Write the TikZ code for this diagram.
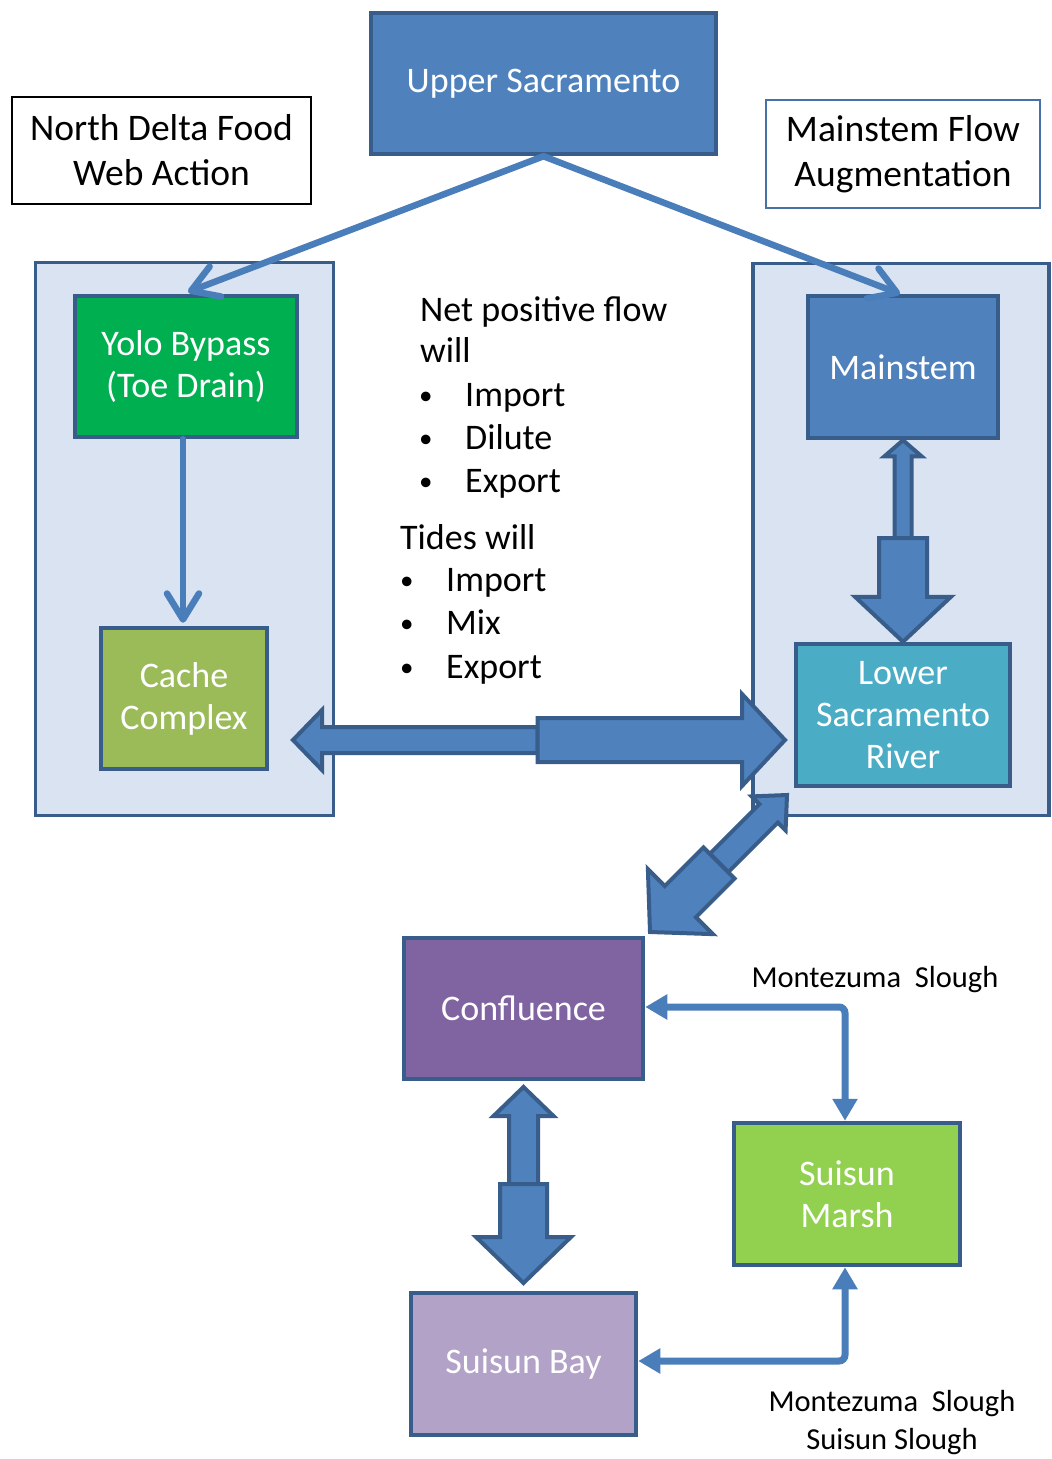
\documentclass[tikz,border=0pt]{standalone}
\usepackage{fontspec}
\setmainfont{Carlito}
\usetikzlibrary{arrows.meta,calc}
\definecolor{boxblue}{HTML}{4F81BD}
\definecolor{edgeblue}{HTML}{385D8A}
\definecolor{linkblue}{HTML}{4A7EBB}
\definecolor{panelfill}{HTML}{D9E3F1}
\definecolor{yologreen}{HTML}{00B050}
\definecolor{cachegreen}{HTML}{9BBB59}
\definecolor{lowercyan}{HTML}{4BACC6}
\definecolor{confpurple}{HTML}{8064A2}
\definecolor{marshgreen}{HTML}{92D050}
\definecolor{baylilac}{HTML}{B2A2C7}
\definecolor{noteedge}{HTML}{4672A8}
\newcommand\blockarr[5]{% tail, tip, shaft half, head length, head half
  \draw[blockarrow]
    ($(#1)!#3!90:(#2)$) --
    ($(#2)!#4!(#1)!#3!-90:(#1)$) --
    ($(#2)!#4!(#1)!#5!-90:(#1)$) --
    (#2) --
    ($(#2)!#4!(#1)!#5!90:(#1)$) --
    ($(#2)!#4!(#1)!#3!90:(#1)$) --
    ($(#1)!#3!-90:(#2)$) -- cycle;}
\tikzset{
  box/.style={draw=edgeblue, line width=4.5, text=white, align=center,
    font=\fontsize{36}{42}\selectfont, inner sep=0},
  panelbox/.style={draw=edgeblue, fill=panelfill, line width=3.5, inner sep=0},
  notebox/.style={line width=1.5, align=center, inner sep=0,
    font=\fontsize{37.5}{45}\selectfont},
  bodytext/.style={anchor=base west, inner sep=0, font=\fontsize{36}{42}\selectfont},
  bullet/.style={anchor=base west, inner sep=0, font=\fontsize{27}{42}\selectfont},
  sloughlabel/.style={align=center, inner sep=0, font=\fontsize{30.5}{38}\selectfont},
  link/.style={draw=linkblue, line width=6.5, line cap=round,
    -{Straight Barb[round,length=26pt,width=32pt]}},
  channel/.style={draw=linkblue, line width=7, rounded corners=6,
    {Triangle[length=22pt,width=24pt]}-{Triangle[length=22pt,width=24pt]}},
  blockarrow/.style={fill=boxblue, draw=edgeblue, line width=4, line join=miter},
}
\begin{document}
\begin{tikzpicture}[x=1pt,y=-1pt]
\useasboundingbox (0,0) rectangle (1052,1459);
\fill[white] (0,0) rectangle (1052,1459);

% panels
\node[panelbox, minimum width=298, minimum height=553] (leftpanel) at (184.5,539) {};
\node[panelbox, minimum width=296, minimum height=552] (rightpanel) at (901,539.5) {};

% notes
\node[notebox, draw=black, minimum width=299, minimum height=107] (northdelta) at (161.5,150.5) {North Delta Food\\Web Action};
\node[notebox, draw=noteedge, minimum width=274, minimum height=108] (flowaug) at (903,154) {Mainstem Flow\\Augmentation};

% boxes
\node[box, fill=boxblue, minimum width=345, minimum height=141] (upper) at (543.5,83.5) {Upper Sacramento};
\node[box, fill=yologreen, minimum width=222, minimum height=141] (yolo) at (186,366.5) {Yolo Bypass\\(Toe Drain)};
\node[box, fill=cachegreen, minimum width=166, minimum height=141] (cache) at (184,698.5) {Cache\\Complex};
\node[box, fill=boxblue, minimum width=190, minimum height=142] (mainstem) at (903,367) {Mainstem};
\node[box, fill=lowercyan, minimum width=214, minimum height=142] (lower) at (903,715) {Lower\\Sacramento\\River};
\node[box, fill=confpurple, minimum width=239, minimum height=141] (confluence) at (523.5,1008.5) {Confluence};
\node[box, fill=marshgreen, minimum width=226, minimum height=142] (marsh) at (847,1194) {Suisun\\Marsh};
\node[box, fill=baylilac, minimum width=225, minimum height=142] (bay) at (523.5,1364) {Suisun Bay};

% middle text
\node[bodytext] (t1) at (420,321) {Net positive flow};
\node[bodytext] (t2) at (420,362) {will};
\node[bullet] (b1) at (419,404) {•};
\node[bodytext] (i1) at (465,406) {Import};
\node[bullet] (b2) at (419,447) {•};
\node[bodytext] (i2) at (465,449) {Dilute};
\node[bullet] (b3) at (419,490) {•};
\node[bodytext] (i3) at (465,492) {Export};
\node[bodytext] (t3) at (400,549) {Tides will};
\node[bullet] (b4) at (400,589) {•};
\node[bodytext] (i4) at (446,591) {Import};
\node[bullet] (b5) at (400,632) {•};
\node[bodytext] (i5) at (446,634) {Mix};
\node[bullet] (b6) at (400,676) {•};
\node[bodytext] (i6) at (446,678) {Export};

% slough labels
\node[sloughlabel] (mz1) at (875,980) {Montezuma\ \ Slough};
\node[sloughlabel] (mz2) at (892,1423) {Montezuma\ \ Slough\\Suisun Slough};

% thin connectors
\coordinate (yolotip) at (188,292);
\coordinate (maintip) at (900,294);
\draw[link] (upper.south) -- (yolotip);
\draw[link] (upper.south) -- (maintip);
\draw[link] ([xshift=-3]yolo.south) -- ([xshift=-1,yshift=3]cache.north);

\draw[channel] ([yshift=1.5]confluence.east) -| ([xshift=-2]marsh.north);
\draw[channel] ([yshift=3]bay.east) -| ([xshift=-2]marsh.south);

% block arrows
\coordinate (hJ) at (537.5,740);
\coordinate (hL) at (293,740);
\coordinate (hR) at (785,740);
\blockarr{hJ}{hL}{13pt}{29pt}{30pt}
\blockarr{hJ}{hR}{22pt}{43pt}{46pt}

\coordinate (vJ) at (903,538);
\blockarr{vJ}{mainstem.south}{8.5pt}{16pt}{18.5pt}
\blockarr{vJ}{lower.north}{24pt}{45pt}{48pt}

\coordinate (cJ) at (523.5,1184);
\coordinate (cT) at (523.5,1087);
\coordinate (cB) at (523.5,1283);
\blockarr{cJ}{cT}{14.5pt}{29pt}{30pt}
\blockarr{cJ}{cB}{23.5pt}{46pt}{47.5pt}

\coordinate (dJ) at (719,863);
\coordinate (dT) at (787,795);
\coordinate (dB) at (650,932);
\blockarr{dJ}{dT}{13pt}{26pt}{24pt}
\blockarr{dJ}{dB}{22pt}{43pt}{46pt}
\end{tikzpicture}
\end{document}
